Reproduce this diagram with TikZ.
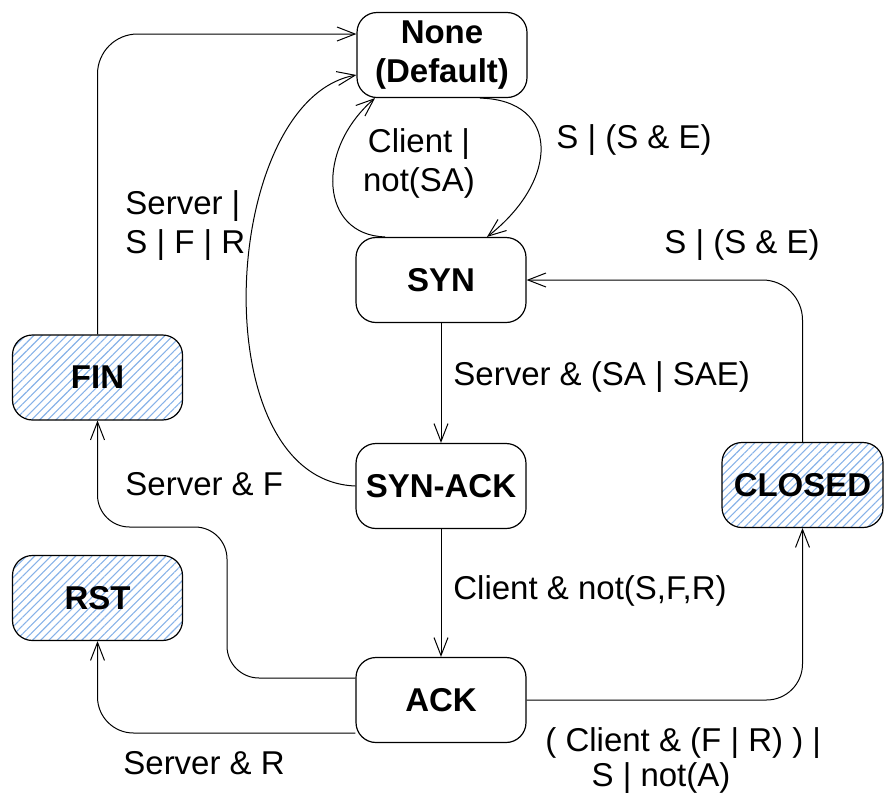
\documentclass[tikz,border=0pt]{standalone}
\usepackage{fontspec}
\setmainfont{Liberation Sans}
\usetikzlibrary{arrows.meta,patterns.meta}
\definecolor{hatch}{RGB}{135,178,232}
\begin{document}
\begin{tikzpicture}[x=0.5pt,y=-0.5pt,
  state/.style={draw, line width=0.6pt, rounded corners=10pt, minimum width=85pt, minimum height=42.5pt, font=\fontsize{16.5}{19.5}\selectfont\bfseries, align=center, inner sep=0pt},
  hatched/.style={state, pattern={Lines[angle=45,distance=2.9pt,line width=0.55pt]}, pattern color=hatch},
  edge/.style={line width=0.5pt, -{Straight Barb[length=9pt,width=7pt]}},
  lbl/.style={font=\fontsize{16.5}{19.5}\selectfont, inner sep=0pt}
]
\useasboundingbox (0,0) rectangle (884,804);
\node[state] (none) at (442,55) {None\\(Default)};
\node[state] (syn) at (441,280) {SYN};
\node[state] (synack) at (441,486) {SYN-ACK};
\node[state] (ack) at (441,700) {ACK};
\node[hatched] (fin) at (97.5,377.5) {FIN};
\node[hatched] (rst) at (97.5,598) {RST};
\node[hatched, minimum width=80.5pt] (closed) at (802.5,485) {CLOSED};

\draw[edge, rounded corners=20pt] (fin.north) |- (none.west |- 0,34);
\draw[edge] (synack.west) .. controls (200,480) and (220,100) .. (none.west |- 0,75);
\draw[edge] (syn.north -| 385,0) .. controls (320,235) and (315,150) .. (none.south -| 375,0);
\draw[edge] (none.south -| 480,0) .. controls (560,100) and (560,180) .. (syn.north -| 487,0);
\draw[edge] (syn) -- (synack);
\draw[edge] (synack) -- (ack);
\draw[edge, rounded corners=16pt] (ack.west |- 0,678) -- (227,678) -- (227,527) -- (97.5,527) -- (fin.south);
\draw[edge, rounded corners=18pt] (ack.west |- 0,733) -| (rst.south);
\draw[edge, rounded corners=18pt] (ack.east) -| (closed.south);
\draw[edge, rounded corners=20pt] (closed.north) |- (syn.east);

\node[lbl] (l1) at (634,140) {S | (S \& E)};
\node[lbl, align=center] (l2) at (419,163) {Client |\\not(SA)};
\node[lbl, align=left, anchor=west] (l3) at (125,225.5) {Server |\\S | F | R};
\node[lbl] (l4) at (742,245) {S | (S \& E)};
\node[lbl, anchor=west] (l5) at (453,377) {Server \& (SA | SAE)};
\node[lbl, anchor=west] (l6) at (125,484) {Server \& F};
\node[lbl, anchor=west] (l7) at (453,591) {Client \& not(S,F,R)};
\node[lbl, anchor=west] (l8) at (123,763) {Server \& R};
\node[lbl, anchor=west] (l9) at (545,743) {( Client \& (F | R) ) |};
\node[lbl] (l10) at (661,778) {S | not(A)};
\end{tikzpicture}
\end{document}
